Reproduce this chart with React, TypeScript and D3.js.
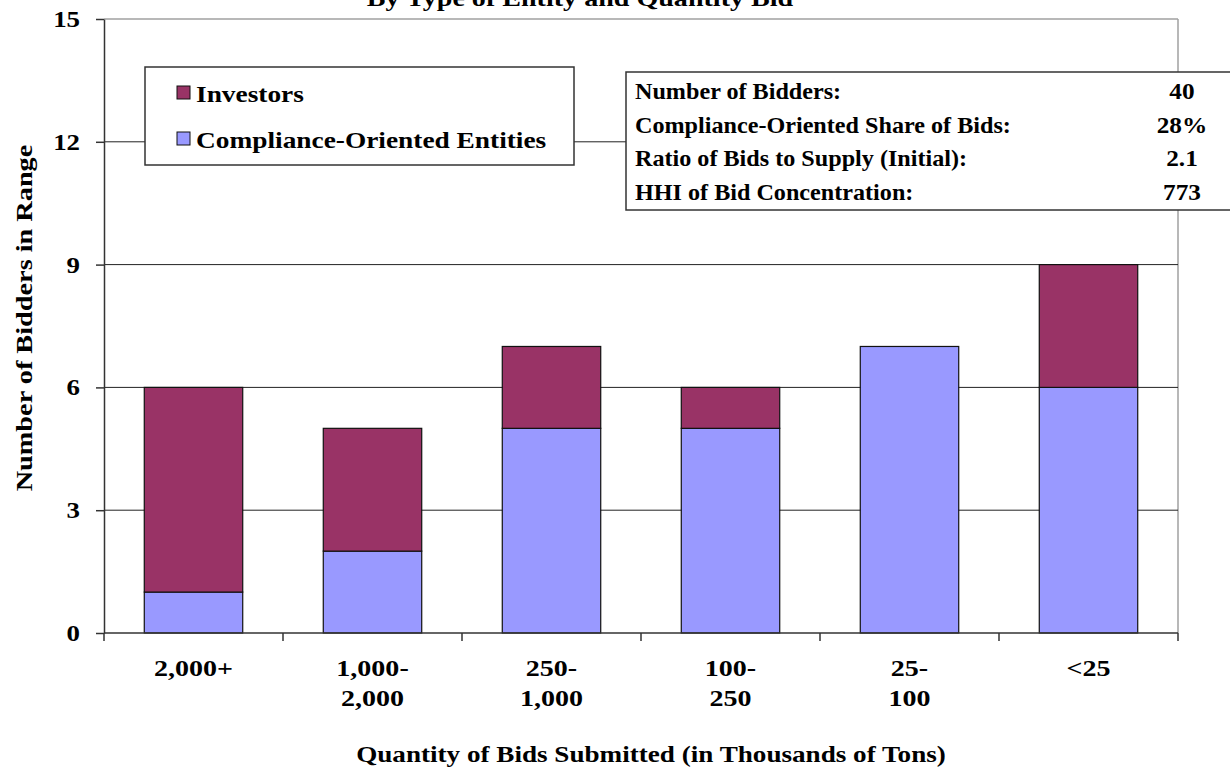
import React, { useRef, useEffect } from 'react';
import * as d3 from 'd3';

const categories = ['2,000+', '1,000-\n2,000', '250-\n1,000', '100-\n250', '25-\n100', '<25'];
const compliance = [1, 2, 5, 5, 7, 6];
const investors = [5, 3, 2, 1, 0, 3];
const yTicks = [0, 3, 6, 9, 12, 15];
const statLabels = [
  'Number of Bidders:',
  'Compliance-Oriented Share of Bids:',
  'Ratio of Bids to Supply (Initial):',
  'HHI of Bid Concentration:',
];
const statValues = ['40', '28%', '2.1', '773'];

const W = 1230;
const H = 771;
const FONT = '"Liberation Serif", "Times New Roman", serif';
const C_INV = '#993366';
const C_COMP = '#9999FF';

type Sel = d3.Selection<any, unknown, null, undefined>;

// bold serif text, stretched horizontally like the original rendering
function txt(parent: Sel, x: number, y: number, s: string, opts: { size?: number; sx?: number; anchor?: string; rotate?: number } = {}) {
  const { size = 23, sx = 1.2, anchor = 'start', rotate = 0 } = opts;
  const g = parent.append('g').attr('transform', `translate(${x},${y}) rotate(${rotate}) scale(${sx},1)`);
  const t = g.append('text')
    .attr('text-anchor', anchor)
    .attr('font-family', FONT).attr('font-weight', 'bold').attr('font-size', size).attr('fill', '#000');
  return t.text(s);
}

const App: React.FC = () => {
  const svgRef = useRef<SVGSVGElement>(null);

  useEffect(() => {
    if (!svgRef.current) return;
    const svg = d3.select(svgRef.current);
    svg.selectAll('*').remove();

    const margin = { top: 19, right: 52, bottom: 138, left: 104 };
    const innerWidth = W - margin.left - margin.right;
    const innerHeight = H - margin.top - margin.bottom;

    const g = svg.append('g').attr('transform', `translate(${margin.left},${margin.top})`);

    const x = d3.scaleBand<number>()
      .domain(categories.map((_, i) => i))
      .range([0, innerWidth])
      .paddingInner(0.45)
      .paddingOuter(0.225);

    const y = d3.scaleLinear().domain([0, 15]).range([innerHeight, 0]);

    // plot frame (gray top / right)
    g.append('line').attr('x1', 0).attr('x2', innerWidth).attr('y1', 0).attr('y2', 0)
      .attr('stroke', '#a0a0a0').attr('stroke-width', 1.5);
    g.append('line').attr('x1', innerWidth).attr('x2', innerWidth).attr('y1', 0).attr('y2', innerHeight)
      .attr('stroke', '#a0a0a0').attr('stroke-width', 1.5);

    // gridlines
    g.selectAll('.grid')
      .data(yTicks.filter(t => t > 0 && t < 15))
      .join('line')
      .attr('x1', 0).attr('x2', innerWidth)
      .attr('y1', d => y(d)).attr('y2', d => y(d))
      .attr('stroke', '#222').attr('stroke-width', 1);

    // bars
    const stack = categories.map((_, i) => ({ i, c: compliance[i], v: investors[i] }));
    g.selectAll('.comp')
      .data(stack)
      .join('rect')
      .attr('x', d => x(d.i)!)
      .attr('width', x.bandwidth())
      .attr('y', d => y(d.c))
      .attr('height', d => y(0) - y(d.c))
      .attr('fill', C_COMP).attr('stroke', '#111').attr('stroke-width', 1.2);
    g.selectAll('.inv')
      .data(stack.filter(d => d.v > 0))
      .join('rect')
      .attr('x', d => x(d.i)!)
      .attr('width', x.bandwidth())
      .attr('y', d => y(d.c + d.v))
      .attr('height', d => y(d.c) - y(d.c + d.v))
      .attr('fill', C_INV).attr('stroke', '#111').attr('stroke-width', 1.2);

    // y axis
    const yAxis = g.append('g').call(d3.axisLeft(y).tickValues(yTicks).tickSize(8).tickSizeOuter(0).tickFormat(() => ''));
    yAxis.select('.domain').attr('stroke', '#333').attr('stroke-width', 1.5);
    yAxis.selectAll('line').attr('stroke', '#333').attr('stroke-width', 1.5);
    yTicks.forEach(t => {
      txt(g, -24, y(t) + 8, String(t), { anchor: 'end', size: 24, sx: 1.12 });
    });

    // x axis with ticks at category boundaries
    const xa = g.append('g').attr('transform', `translate(0,${innerHeight})`);
    xa.append('line').attr('x1', 0).attr('x2', innerWidth).attr('stroke', '#333').attr('stroke-width', 1.5);
    const bounds = d3.range(categories.length + 1).map(i => x.step() * i);
    xa.selectAll('.xt')
      .data(bounds)
      .join('line')
      .attr('x1', d => d).attr('x2', d => d)
      .attr('y1', 0).attr('y2', 8)
      .attr('stroke', '#333').attr('stroke-width', 1.5);

    categories.forEach((c, i) => {
      c.split('\n').forEach((line, k) => {
        txt(xa, x(i)! + x.bandwidth() / 2, 43 + k * 30, line, { anchor: 'middle', sx: 1.22 });
      });
    });

    // axis titles
    txt(svg, 651, 762, 'Quantity of Bids Submitted (in Thousands of Tons)', { anchor: 'middle', sx: 1.18 });
    txt(svg, 32, 318, 'Number of Bidders in Range', { anchor: 'middle', sx: 1.23, rotate: -90 });

    // clipped title
    txt(svg, 580, 6, 'By Type of Entity and Quantity Bid', { anchor: 'middle', size: 24, sx: 1.17 });

    // legend
    const leg = svg.append('g');
    leg.append('rect').attr('x', 145).attr('y', 67).attr('width', 429).attr('height', 98)
      .attr('fill', '#fff').attr('stroke', '#333').attr('stroke-width', 1.5);
    const legItems = [
      { label: 'Investors', color: C_INV, yy: 102 },
      { label: 'Compliance-Oriented Entities', color: C_COMP, yy: 148 },
    ];
    legItems.forEach(it => {
      leg.append('rect').attr('x', 177).attr('y', it.yy - 16).attr('width', 13).attr('height', 13)
        .attr('fill', it.color).attr('stroke', '#111').attr('stroke-width', 1);
      txt(leg, 196, it.yy, it.label, { sx: 1.19 });
    });

    // stats box
    const st = svg.append('g');
    st.append('rect').attr('x', 626).attr('y', 72).attr('width', 620).attr('height', 138)
      .attr('fill', '#fff').attr('stroke', '#333').attr('stroke-width', 1.5);
    statLabels.forEach((lab, i) => {
      const yy = 99 + i * 33.5;
      txt(st, 635, yy, lab, { sx: 1.05 });
      txt(st, 1182, yy, statValues[i], { anchor: 'middle', sx: 1.1 });
    });
  }, []);

  return (
    <div style={{ position: 'absolute', left: 0, top: 0, width: W, height: H, background: '#fff' }}>
      <svg ref={svgRef} width={W} height={H} style={{ display: 'block' }} />
    </div>
  );
};

export default App;
